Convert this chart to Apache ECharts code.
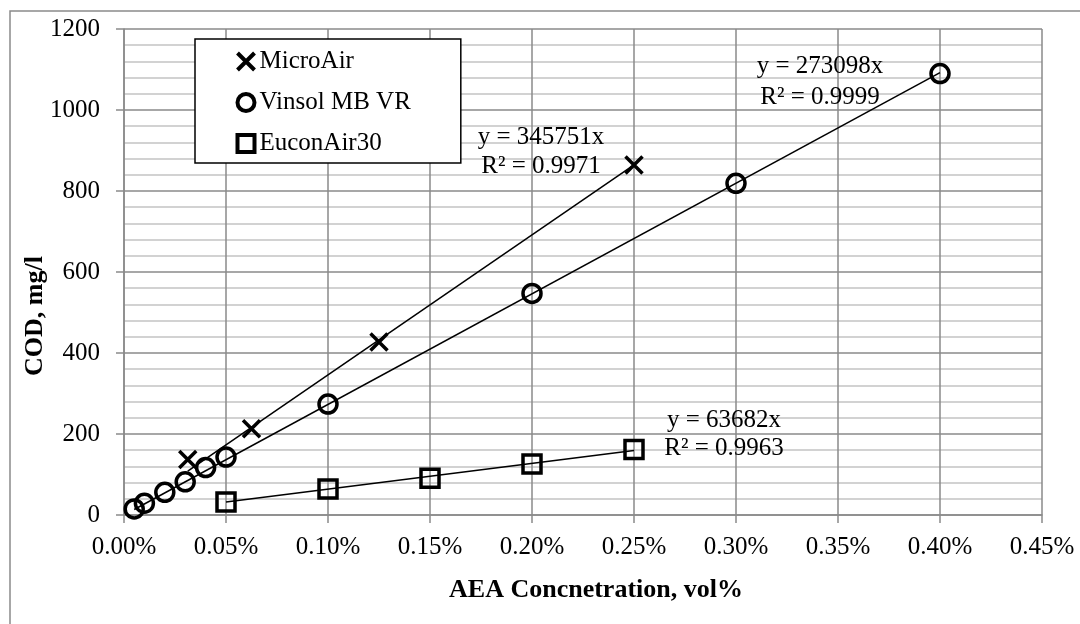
<!DOCTYPE html>
<html>
<head>
<meta charset="utf-8">
<script src="https://cdn.jsdelivr.net/npm/echarts@6/dist/echarts.min.js"></script>
<style>html,body{margin:0;padding:0;background:#fff}#c{width:1080px;height:624px}</style>
</head>
<body>
<div id="c"></div>
<script>
// x values in vol% units
const microX = [0.03125, 0.0625, 0.125, 0.25];
const microY = [137, 213, 427, 864];
const vinsolX = [0.005, 0.01, 0.02, 0.03, 0.04, 0.05, 0.1, 0.2, 0.3, 0.4];
const vinsolY = [15, 29, 56, 82, 117, 143, 274, 547, 819, 1090];
const euconX = [0.05, 0.1, 0.15, 0.2, 0.25];
const euconY = [32, 64, 91, 126, 162];
const seriesNames = ['MicroAir', 'Vinsol MB VR', 'EuconAir30'];
const slopes = [345751, 273098, 63682];
const r2 = ['0.9971', '0.9999', '0.9963'];
const xTitle = 'AEA Concnetration, vol%';
const yTitle = 'COD, mg/l';

const FONT = '"Liberation Serif", "Times New Roman", serif';
const xs = [microX, vinsolX, euconX];
const ys = [microY, vinsolY, euconY];
const symbols = ['path://M0,0L10,10M10,0L0,10', 'circle', 'rect'];
const sizes = [17, 18, 18];

function pairs(a, b) { return a.map((v, i) => [v, b[i]]); }
function trend(i) {
  const x0 = Math.min(...xs[i]), x1 = Math.max(...xs[i]);
  return [[x0, slopes[i] * x0 / 100], [x1, slopes[i] * x1 / 100]];
}

const series = [];
for (let i = 0; i < 3; i++) {
  series.push({
    name: seriesNames[i] + ' trend', type: 'line', data: trend(i),
    symbol: 'none', lineStyle: { color: '#000', width: 1.5 }, z: 2,
    silent: true, animation: false
  });
}
for (let i = 0; i < 3; i++) {
  series.push({
    name: seriesNames[i], type: 'scatter', data: pairs(xs[i], ys[i]),
    symbol: symbols[i], symbolSize: sizes[i],
    itemStyle: { color: 'none', borderColor: '#000', borderWidth: 3.5, opacity: 1 },
    z: 3, emphasis: { disabled: true }, animation: false
  });
}

const eqPos = [[541, 137, 166], [820, 66, 97], [724, 420, 448]];
const graphics = [{
  type: 'rect', shape: { x: 10, y: 11, width: 1200, height: 800 },
  style: { fill: 'none', stroke: '#8a8a8a', lineWidth: 1.5 }, silent: true, z: -10
}];
for (let i = 0; i < 3; i++) {
  graphics.push({ type: 'text', x: eqPos[i][0], y: eqPos[i][1], z: 10,
    style: { text: 'y = ' + slopes[i] + 'x', font: '25px ' + FONT, fill: '#000', align: 'center', verticalAlign: 'middle' } });
  graphics.push({ type: 'text', x: eqPos[i][0], y: eqPos[i][2], z: 10,
    style: { text: 'R² = ' + r2[i], font: '25px ' + FONT, fill: '#000', align: 'center', verticalAlign: 'middle' } });
}
graphics.push({ type: 'text', x: 596, y: 590, z: 10,
  style: { text: xTitle, font: 'bold 26px ' + FONT, fill: '#000', align: 'center', verticalAlign: 'middle' } });
graphics.push({ type: 'text', x: 35, y: 316, rotation: Math.PI / 2, z: 10,
  style: { text: yTitle, font: 'bold 26px ' + FONT, fill: '#000', align: 'center', verticalAlign: 'middle' } });

const chart = echarts.init(document.getElementById('c'), null, { renderer: 'canvas' });
chart.setOption({
  animation: false,
  backgroundColor: '#fff',
  grid: { left: 124, top: 29, right: 38, bottom: 109, containLabel: false },
  xAxis: {
    type: 'value', min: 0, max: 0.45, interval: 0.05,
    axisLine: { show: true, lineStyle: { color: '#8a8a8a', width: 1.5 } },
    axisTick: { show: true, length: 8, lineStyle: { color: '#8a8a8a', width: 1.5 } },
    axisLabel: { formatter: v => v.toFixed(2) + '%', fontFamily: FONT, fontSize: 25, color: '#000', margin: 20 },
    splitLine: { show: true, lineStyle: { color: '#8a8a8a', width: 1.5 } }
  },
  yAxis: {
    type: 'value', min: 0, max: 1200, interval: 200,
    axisLine: { show: true, lineStyle: { color: '#8a8a8a', width: 1.5 } },
    axisTick: { show: true, length: 8, lineStyle: { color: '#8a8a8a', width: 1.5 } },
    axisLabel: { formatter: v => String(v), fontFamily: FONT, fontSize: 25, color: '#000', margin: 24 },
    splitLine: { show: true, lineStyle: { color: '#8a8a8a', width: 1.5 } },
    minorTick: { show: false, splitNumber: 5 },
    minorSplitLine: { show: true, lineStyle: { color: '#c3c3c3', width: 1.5 } }
  },
  legend: {
    orient: 'vertical', left: 195, top: 39,
    padding: [10, 50, 7, 40], itemGap: 16,
    backgroundColor: '#fff', borderColor: '#000', borderWidth: 1.5, borderRadius: 0,
    itemWidth: 17, itemHeight: 17,
    textStyle: { fontFamily: FONT, fontSize: 25, color: '#000', lineHeight: 25 },
    selectedMode: false,
    data: seriesNames.map((n, i) => ({
      name: n, icon: symbols[i],
      itemStyle: { color: 'none', borderColor: '#000', borderWidth: 4 }
    }))
  },
  graphic: graphics,
  series: series
});
</script>
</body>
</html>
